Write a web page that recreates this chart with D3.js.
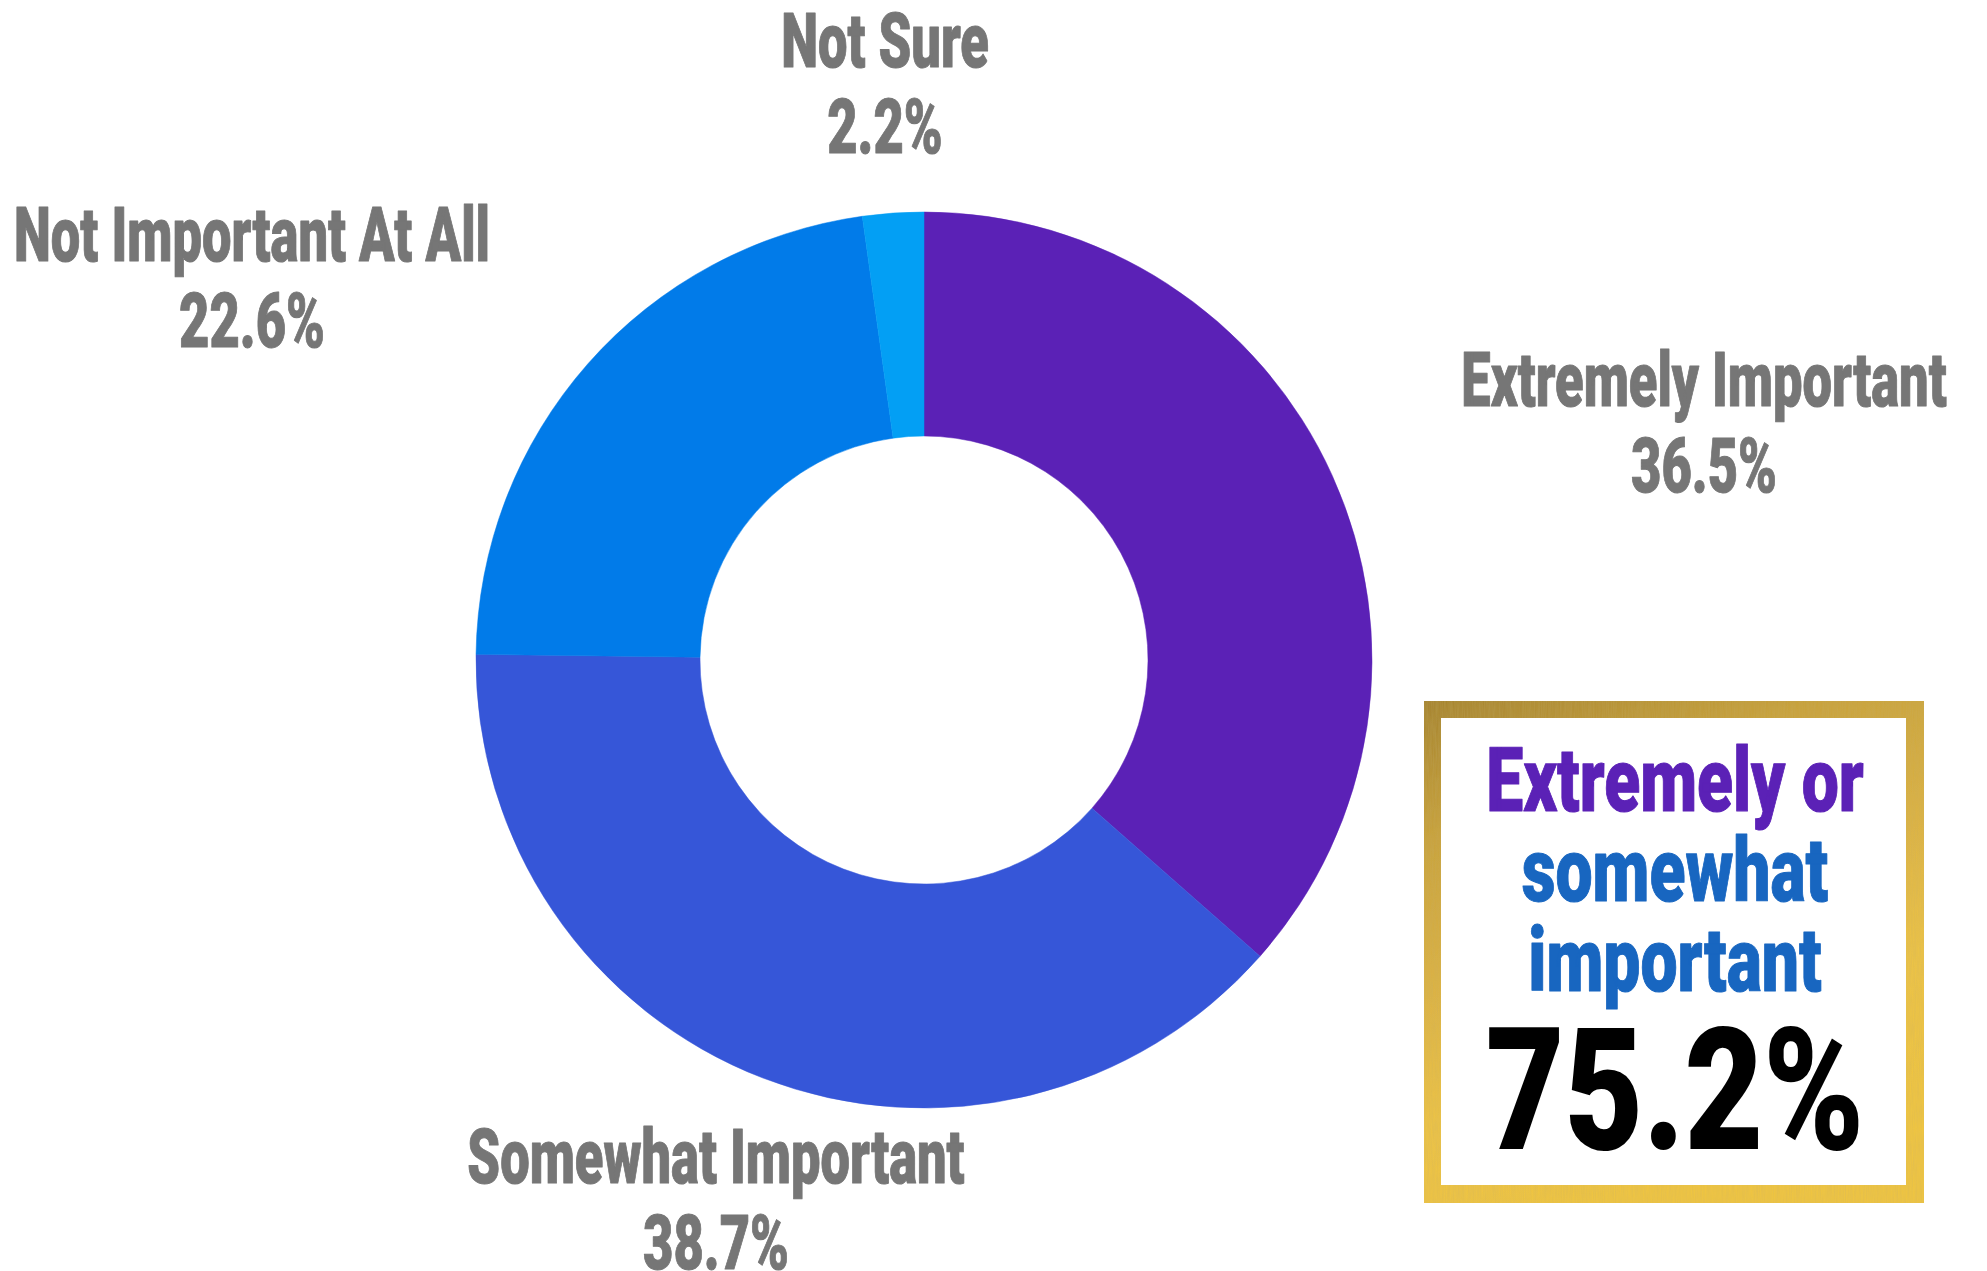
<!DOCTYPE html>
<html>
<head>
<meta charset="utf-8">
<script src="https://cdn.jsdelivr.net/npm/d3@7"></script>
<style>
  html, body { margin: 0; padding: 0; background: #ffffff; }
  svg { display: block; }
</style>
</head>
<body>
<svg id="chart" width="1987" height="1271"></svg>
<script>
// ---- data ----
const categories = ["Extremely Important", "Somewhat Important", "Not Important At All", "Not Sure"];
const values = [36.5, 38.7, 22.6, 2.2];
const sliceColors = ["#5B21B6", "#3656D8", "#017BE9", "#039FF4"];
const highlightLines = ["Extremely or", "somewhat", "important"];
const highlightLineColors = ["#5B21B6", "#1866C0", "#1866C0"];
const highlightValue = "75.2%";

// ---- layout ----
const W = 1987, H = 1271;
const cx = 924, cy = 660, outerR = 448, innerR = 224;
const labelFont = "Roboto, 'Liberation Sans', sans-serif";
const labelSize = 76, labelSX = 0.69, lineGap = 86;
const labelPos = [
  [1704, 406],   // Extremely Important (first baseline)
  [716, 1183],   // Somewhat Important
  [252, 261],    // Not Important At All
  [885, 67]      // Not Sure
];

const svg = d3.select("#chart");

// defs: gold gradient + texture
const defs = svg.append("defs");
const grad = defs.append("linearGradient").attr("id", "gold")
  .attr("x1", "0").attr("y1", "0").attr("x2", "0.35").attr("y2", "1");
[["0%", "#a3802a"], ["25%", "#c9a23a"], ["50%", "#dcb243"], ["75%", "#eec445"], ["100%", "#f1c640"]]
  .forEach(([o, c]) => grad.append("stop").attr("offset", o).attr("stop-color", c));
const filt = defs.append("filter").attr("id", "grain").attr("x", 0).attr("y", 0).attr("width", 1).attr("height", 1);
filt.append("feTurbulence").attr("type", "fractalNoise").attr("baseFrequency", "0.9 0.05").attr("numOctaves", 2).attr("seed", 3).attr("result", "noise");
filt.append("feColorMatrix").attr("in", "noise").attr("type", "matrix")
  .attr("values", "0 0 0 0 0.55  0 0 0 0 0.42  0 0 0 0 0.12  0 0 0 0.35 0").attr("result", "tint");
filt.append("feComposite").attr("in", "tint").attr("in2", "SourceGraphic").attr("operator", "in").attr("result", "t2");
filt.append("feMerge").selectAll("feMergeNode").data(["SourceGraphic", "t2"]).join("feMergeNode").attr("in", d => d);

// ---- donut ----
const pie = d3.pie().sort(null).value(d => d.value);
const arc = d3.arc().innerRadius(innerR).outerRadius(outerR);
const data = categories.map((c, i) => ({ name: c, value: values[i], color: sliceColors[i] }));

svg.append("g").attr("transform", `translate(${cx},${cy})`)
  .selectAll("path").data(pie(data)).join("path")
  .attr("d", arc)
  .attr("fill", d => d.data.color)
  .attr("stroke", d => d.data.color)
  .attr("stroke-width", 0.5);

// ---- slice labels ----
function condensed(g, x, y, str, size, fill, sx, sw) {
  const t = g.append("text")
    .attr("transform", `translate(${x},${y}) scale(${sx},1)`)
    .attr("text-anchor", "middle")
    .attr("fill", fill)
    .style("font-family", labelFont)
    .style("font-weight", 900)
    .style("font-size", size + "px")
    .text(str);
  if (sw > 0) t.attr("stroke", fill).attr("stroke-width", sw).attr("stroke-linejoin", "round");
  return t;
}

const labels = svg.append("g");
data.forEach((d, i) => {
  const [x, y] = labelPos[i];
  condensed(labels, x, y, d.name, labelSize, "#767676", labelSX, 1);
  condensed(labels, x, y + lineGap, d3.format(".1f")(d.value) + "%", labelSize, "#767676", labelSX, 1);
});

// ---- highlight box ----
const box = { x: 1424, y: 701, w: 500, h: 502, b: 17 };
svg.append("rect").attr("x", box.x).attr("y", box.y).attr("width", box.w).attr("height", box.h)
  .attr("fill", "url(#gold)").attr("filter", "url(#grain)");
svg.append("rect").attr("x", box.x + box.b).attr("y", box.y + box.b)
  .attr("width", box.w - 2 * box.b - 1).attr("height", box.h - 2 * box.b - 1).attr("fill", "#ffffff");

const hb = svg.append("g");
const boxCx = 1675;
const hlBaselines = [811, 901, 991];
highlightLines.forEach((t, i) => {
  condensed(hb, boxCx, hlBaselines[i], t, 88, highlightLineColors[i], 0.75, 1);
});
condensed(hb, boxCx, 1149, highlightValue, 170, "#000000", 0.8, 0);
</script>
</body>
</html>
